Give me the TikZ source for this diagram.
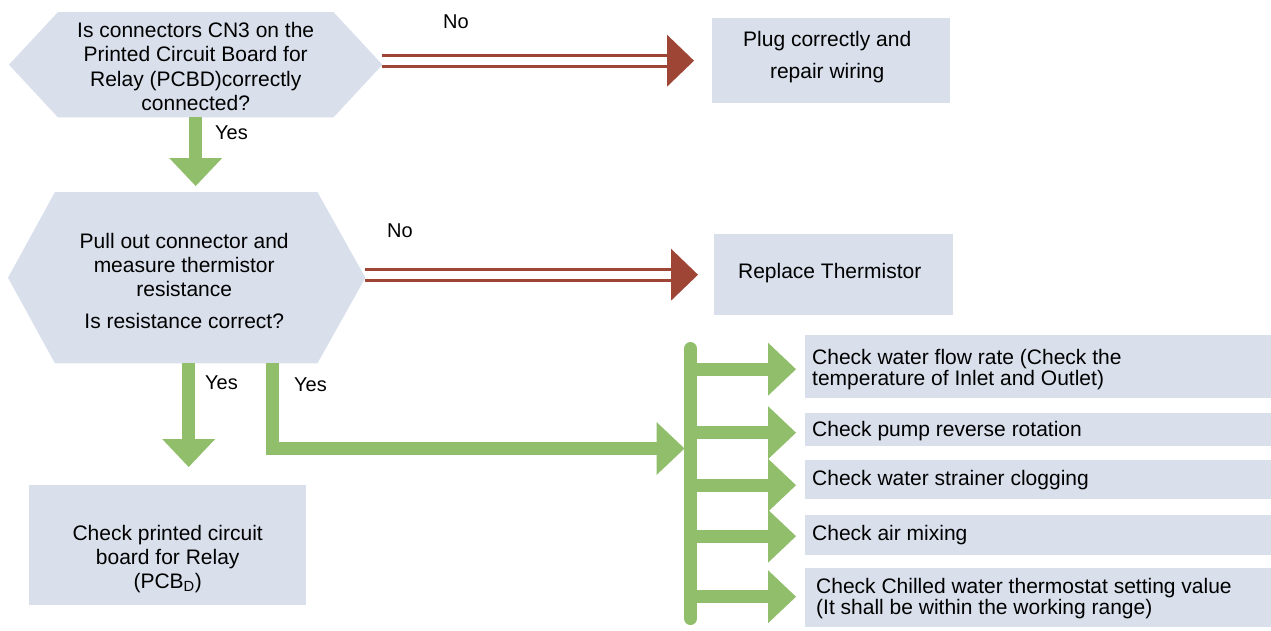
\documentclass[tikz,border=0pt]{standalone}
\usepackage{fontspec}
\setmainfont{Liberation Sans}
\usetikzlibrary{arrows.meta,backgrounds,calc}

\definecolor{panelblue}{HTML}{D9E0EC}
\definecolor{leaf}{HTML}{90BE6B}
\definecolor{brick}{HTML}{9E4536}

% text block of fixed size: width, height, first baseline, line skip, alignment, text
\newcommand\paneltext[6]{%
  \parbox[c][#2][t]{#1}{\fontsize{21}{#4}\selectfont#5\rule{0pt}{#3}\ignorespaces#6}}

\begin{document}
\begin{tikzpicture}[x=1pt,y=-1pt,
  panel/.style={fill=panelblue, draw=none, inner sep=0pt, anchor=north west},
  hexq/.style={draw=none, inner sep=0pt, anchor=north west},
  lbl/.style={font=\fontsize{20}{24}\selectfont, inner sep=0pt, anchor=base west},
  gflow/.style={draw=leaf, line width=13pt,
    -{Triangle[width=53pt,length=28pt,line width=0pt]}},
  busbar/.style={draw=leaf, line width=13pt, line cap=round},
  rtip/.style={draw=brick, line width=0.4pt,
    -{Triangle[width=52pt,length=27pt,line width=0pt]}},
  rshaft/.style={draw=brick, double=white, double distance=8pt, line width=3pt},
]
\useasboundingbox (0,0) rectangle (1271,630);

% decision nodes (hexagon outline added on the background layer)
\node[hexq] (q1) at (9,12)
  {\paneltext{373pt}{105pt}{25pt}{24.5pt}{\centering}%
   {Is connectors CN3 on the\\Printed Circuit Board for\\Relay (PCBD)correctly\\connected?}};
\node[hexq] (q2) at (8,192)
  {\paneltext{357pt}{171pt}{56pt}{24pt}{\centering\rightskip=5pt plus 1fil}%
   {Pull out connector and\\measure thermistor\\resistance\\[8pt]Is resistance correct?}};

% action boxes
\node[panel] (r1) at (712,18)
  {\paneltext{238pt}{85pt}{28pt}{32pt}{\centering\rightskip=8pt plus 1fil}%
   {Plug correctly and\\repair wiring}};
\node[panel] (r2) at (714,234)
  {\paneltext{239pt}{81pt}{44pt}{24pt}{\centering\rightskip=8pt plus 1fil}%
   {Replace Thermistor}};
\node[panel] (pcb) at (29,485)
  {\paneltext{277pt}{120pt}{55pt}{24pt}{\centering}%
   {Check printed circuit\\board for Relay\\(PCB\textsubscript{D})}};

\node[panel] (b1) at (805,335)
  {\paneltext{466pt}{63pt}{29pt}{21pt}{\raggedright\leftskip=7pt}%
   {Check water flow rate (Check the\\temperature of Inlet and Outlet)}};
\node[panel] (b2) at (805,413)
  {\paneltext{466pt}{33pt}{23pt}{21pt}{\raggedright\leftskip=7pt}%
   {Check pump reverse rotation}};
\node[panel] (b3) at (805,460)
  {\paneltext{466pt}{39pt}{25pt}{21pt}{\raggedright\leftskip=7pt}%
   {Check water strainer clogging}};
\node[panel] (b4) at (805,515)
  {\paneltext{466pt}{40pt}{25pt}{21pt}{\raggedright\leftskip=7pt}%
   {Check air mixing}};
\node[panel] (b5) at (805,568)
  {\paneltext{466pt}{59pt}{25pt}{21pt}{\raggedright\leftskip=11pt}%
   {Check Chilled water thermostat setting value\\(It shall be within the working range)}};

\begin{scope}[on background layer]
  \fill[white] (0,0) rectangle (1271,630);
  \fill[panelblue] (q1.west) -- ([xshift=49pt]q1.north west) -- ([xshift=-49pt]q1.north east)
    -- (q1.east) -- ([xshift=-49pt]q1.south east) -- ([xshift=49pt]q1.south west) -- cycle;
  \fill[panelblue] (q2.west) -- ([xshift=47pt]q2.north west) -- ([xshift=-48pt]q2.north east)
    -- (q2.east) -- ([xshift=-48pt]q2.south east) -- ([xshift=47pt]q2.south west) -- cycle;
\end{scope}

% "No" branches: double red connectors
\coordinate (n1s) at (q1.east |- r1.west);
\coordinate (n1e) at ([xshift=-18pt]r1.west);
\draw[rtip] (n1s) -- (n1e);
\draw[rshaft] (n1s) -- ([xshift=-27pt]n1e);
\node[lbl] (no1) at (443,28) {No};

\coordinate (n2s) at (q2.east |- r2.west);
\coordinate (n2e) at ([xshift=-16pt]r2.west);
\draw[rtip] (n2s) -- (n2e);
\draw[rshaft] (n2s) -- ([xshift=-27pt]n2e);
\node[lbl] (no2) at (387,237) {No};

% "Yes" branches: green block arrows
\draw[gflow] (q1.south) -- ([yshift=6pt]q2.north -| q1.south);
\node[lbl] (yes1) at (215,139) {Yes};

\coordinate (y2) at ([xshift=2pt]q2.south);
\coordinate (pcbin) at ([yshift=18pt]pcb.north);
\draw[gflow] (y2) -- (y2 |- pcbin);
\node[lbl] (yes2) at (205,389) {Yes};

\coordinate (bus-top) at (690.5,348.5);
\coordinate (bus-bot) at (690.5,618.5);
\coordinate (bus-in) at (684.5,448.5);
\coordinate (y3) at ([xshift=86pt]q2.south);
\draw[gflow] (y3) |- (bus-in);
\node[lbl] (yes3) at (294,391) {Yes};

% distribution bar feeding the checks
\draw[busbar] (bus-top) -- (bus-bot);
\foreach \b/\d in {b1/-2.5,b2/-3,b3/-5.5,b4/-1,b5/1}{
  \coordinate (from) at (bus-top |- \b.west);
  \draw[gflow] ([yshift=\d pt]from) -- ([xshift=-9pt,yshift=\d pt]\b.west);
}
\end{tikzpicture}
\end{document}
